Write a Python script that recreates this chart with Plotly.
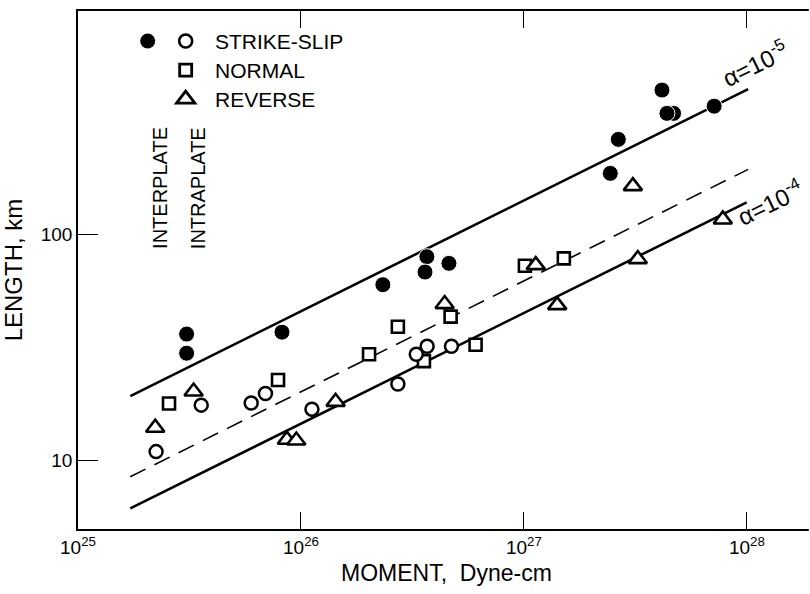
import math
import plotly.graph_objects as go

# ---------------- data ----------------
# Interplate strike-slip (filled circles)
inter_ss_moment = [3.07e25, 3.07e25, 8.22e25, 2.33e26, 3.67e26, 3.60e26, 4.61e26,
                   2.44e27, 2.65e27, 4.16e27, 4.69e27, 4.38e27, 7.13e27]
inter_ss_length = [36.1, 29.7, 36.8, 59.7, 79.4, 67.9, 74.2,
                   185.6, 262.4, 433.6, 342.0, 342.0, 368.0]

# Intraplate strike-slip (open circles)
intra_ss_moment = [2.24e25, 3.57e25, 5.98e25, 6.93e25, 1.12e26, 2.72e26, 3.29e26, 3.68e26, 4.73e26]
intra_ss_length = [10.9, 17.5, 17.9, 19.7, 16.8, 21.7, 29.4, 31.9, 31.9]

# Normal (squares)
normal_moment = [2.56e25, 7.89e25, 2.02e26, 2.72e26, 3.56e26, 4.69e26, 6.07e26, 1.01e27, 1.51e27]
normal_length = [17.8, 22.6, 29.4, 38.9, 27.4, 43.1, 32.4, 72.4, 78.1]

# Reverse (triangles)
reverse_moment = [2.22e25, 3.30e25, 8.65e25, 9.53e25, 1.43e26, 4.41e26, 1.13e27, 1.41e27,
                  3.24e27, 3.08e27, 7.80e27]
reverse_length = [13.9, 20.1, 12.3, 12.2, 18.1, 49.0, 72.9, 48.5, 77.5, 163.0, 116.0]

# Model lines
alpha5_moment = [1.716e25, 1.013e28]
alpha5_length = [19.2, 438.0]
alpha4_moment = [1.716e25, 9.98e27]
alpha4_length = [6.11, 138.1]
mid_moment = [1.716e25, 1.013e28]
mid_length = [8.44, 193.3]

x_tick_exps = [25, 26, 27, 28]
y_tick_vals = [10, 100]

FONT = "Liberation Sans, Arial, sans-serif"

fig = go.Figure()

fig.add_trace(go.Scatter(x=alpha5_moment, y=alpha5_length, mode="lines",
                         line=dict(color="black", width=2.6)))
fig.add_trace(go.Scatter(x=alpha4_moment, y=alpha4_length, mode="lines",
                         line=dict(color="black", width=2.6)))
fig.add_trace(go.Scatter(x=mid_moment, y=mid_length, mode="lines",
                         line=dict(color="black", width=1.6, dash="17px,10px")))

fig.add_trace(go.Scatter(x=normal_moment, y=normal_length, mode="markers",
                         marker=dict(symbol="square", size=12, color="white",
                                     line=dict(color="black", width=2.6))))
fig.add_trace(go.Scatter(x=reverse_moment, y=reverse_length, mode="markers",
                         marker=dict(symbol="triangle-up", size=16, color="white",
                                     line=dict(color="black", width=2.6))))
fig.add_trace(go.Scatter(x=intra_ss_moment, y=intra_ss_length, mode="markers",
                         marker=dict(symbol="circle", size=13, color="white",
                                     line=dict(color="black", width=2.5))))
fig.add_trace(go.Scatter(x=inter_ss_moment, y=inter_ss_length, mode="markers",
                         marker=dict(symbol="circle", size=16, color="black",
                                     line=dict(color="white", width=1))))

xrange = [25, 28.283]
yrange = [0.695, 2.987]

fig.update_layout(
    width=810, height=594,
    margin=dict(l=78, r=0, t=11, b=65),
    plot_bgcolor="white", paper_bgcolor="white",
    showlegend=False, hovermode=False,
    font=dict(family=FONT, color="black", size=19),
    xaxis=dict(type="log", range=xrange,
               tickvals=[10.0 ** e for e in x_tick_exps],
               ticktext=["10<sup>%d</sup>" % e for e in x_tick_exps],
               ticks="inside", ticklen=17, tickwidth=1.3, tickcolor="black",
               showline=True, linewidth=1.6, linecolor="black", mirror="ticks",
               showgrid=False, zeroline=False, tickfont=dict(size=19)),
    yaxis=dict(type="log", range=yrange,
               tickvals=y_tick_vals, ticktext=[str(v) for v in y_tick_vals],
               ticks="inside", ticklen=20, tickwidth=1.3, tickcolor="black",
               showline=True, linewidth=1.6, linecolor="black",
               showgrid=False, zeroline=False, tickfont=dict(size=19),
               title=dict(text="LENGTH, km", font=dict(size=24), standoff=12)),
)

# legend keys (pixel-sized shapes anchored in the plot area)
leg_x = [0.0952, 0.1471, 0.1471, 0.1471]
leg_y = [0.942, 0.942, 0.886, 0.830]
shapes = [
    dict(type="circle", xref="paper", yref="paper", xsizemode="pixel", ysizemode="pixel",
         xanchor=leg_x[0], yanchor=leg_y[0], x0=-7.5, x1=7.5, y0=-7.5, y1=7.5,
         fillcolor="black", line=dict(color="black", width=0)),
    dict(type="circle", xref="paper", yref="paper", xsizemode="pixel", ysizemode="pixel",
         xanchor=leg_x[1], yanchor=leg_y[1], x0=-6.5, x1=6.5, y0=-6.5, y1=6.5,
         fillcolor="white", line=dict(color="black", width=2.6)),
    dict(type="rect", xref="paper", yref="paper", xsizemode="pixel", ysizemode="pixel",
         xanchor=leg_x[2], yanchor=leg_y[2], x0=-6, x1=6, y0=-6, y1=6,
         fillcolor="white", line=dict(color="black", width=2.8)),
    dict(type="path", xref="paper", yref="paper", xsizemode="pixel", ysizemode="pixel",
         xanchor=leg_x[3], yanchor=leg_y[3], path="M-9.2,-4 L9.2,-4 L0,8 Z",
         fillcolor="white", line=dict(color="black", width=2.8)),
    # mask the frame's right edge, which lies outside the reference picture
    dict(type="rect", xref="paper", yref="paper", xsizemode="pixel",
         xanchor=1.0, x0=-1.2, x1=6, y0=-0.01, y1=1.01, layer="above",
         fillcolor="white", line=dict(width=0)),
]
# right-hand tick stubs
for v in y_tick_vals:
    shapes.append(dict(type="line", xref="paper", yref="y",
                       x0=1 - 15 / 732.0, x1=1.0, y0=math.log10(v), y1=math.log10(v),
                       line=dict(color="black", width=1.3)))
fig.update_layout(shapes=shapes)

ann = []
# legend labels
for txt, yy in zip(["STRIKE-SLIP", "NORMAL", "REVERSE"], leg_y[1:]):
    ann.append(dict(text=txt, xref="paper", yref="paper", x=0.1844, y=yy,
                    xanchor="left", yanchor="middle", showarrow=False,
                    font=dict(size=21)))
# vertical labels
ann.append(dict(text="INTERPLATE", xref="paper", yref="paper", x=0.0939, y=0.658,
                textangle=-90, showarrow=False, font=dict(size=20)))
ann.append(dict(text="INTRAPLATE", xref="paper", yref="paper", x=0.1462, y=0.658,
                textangle=-90, showarrow=False, font=dict(size=20)))
# alpha labels
ann.append(dict(text="α=10<sup>-5</sup>", xref="x", yref="y", x=28.038, y=2.757,
                textangle=-26, showarrow=False, font=dict(size=24)))
ann.append(dict(text="α=10<sup>-4</sup>", xref="x", yref="y", x=28.103, y=2.142,
                textangle=-26, showarrow=False, font=dict(size=24)))
# x-axis title
ann.append(dict(text="MOMENT,  Dyne-cm", xref="paper", yref="paper", x=0.504, y=-0.085,
                xanchor="center", yanchor="middle", showarrow=False, font=dict(size=23)))
fig.update_layout(annotations=ann)

fig.write_html("out.html", config={"displayModeBar": False},
               post_script="document.documentElement.style.overflow='hidden';document.body.style.margin='0px';document.body.style.overflow='hidden';")
